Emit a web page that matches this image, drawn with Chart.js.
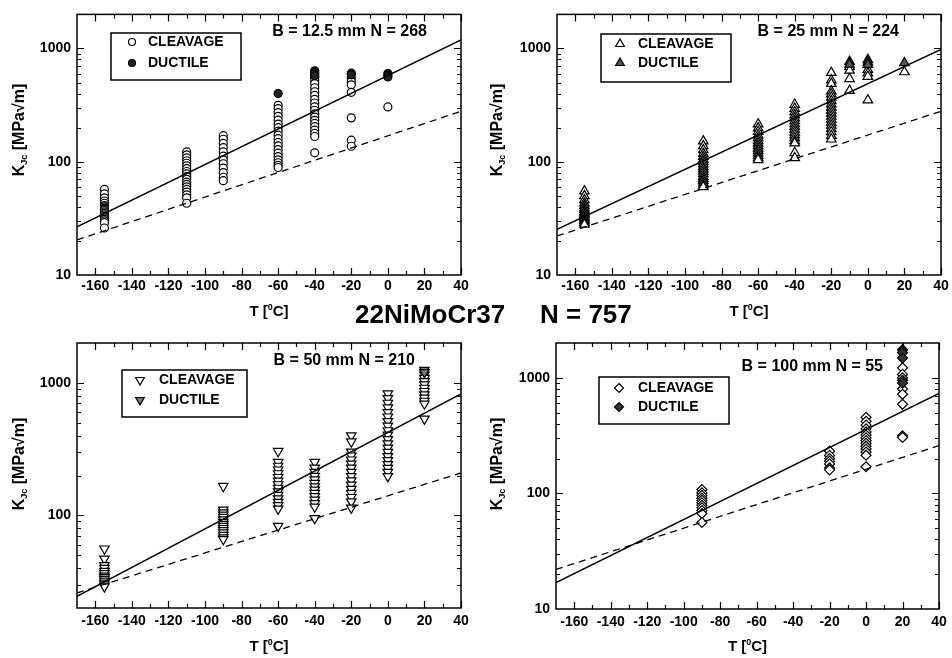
<!DOCTYPE html>
<html>
<head>
<meta charset="utf-8">
<script src="https://cdn.jsdelivr.net/npm/chart.js@4.4.0/dist/chart.umd.min.js"></script>
<style>
body { margin: 0; background: #fff; }
#wrap { position: relative; width: 952px; height: 658px; overflow: hidden; }
canvas { position: absolute; }
.title { position: absolute; top: 301px; font: bold 26px "Liberation Sans", Arial, sans-serif; line-height: 26px; white-space: nowrap; color: #000; }
</style>
</head>
<body>
<div id="wrap">
  <canvas id="c1" width="476" height="330" style="left:0;top:0"></canvas>
  <canvas id="c2" width="476" height="330" style="left:476px;top:0"></canvas>
  <canvas id="c3" width="476" height="338" style="left:0;top:320px"></canvas>
  <canvas id="c4" width="476" height="338" style="left:476px;top:320px"></canvas>
  <div class="title" style="left:355px">22NiMoCr37</div>
  <div class="title" style="left:540px">N = 757</div>
</div>
<script>
// axis ticks
const xTicks = [-160, -140, -120, -100, -80, -60, -40, -20, 0, 20, 40];
const xMinor = [-150, -130, -110, -90, -70, -50, -30, -10, 10, 30];
const yTicksFull = [10, 100, 1000];
const yTicksUpper = [100, 1000];
const lineT = [-170, 40];

// B = 12.5 mm
const temps125 = [-155, -110, -90, -60, -40, -20, 0];
const cleav125 = [
    [57, 52, 48, 45, 43, 41, 40, 39, 38, 37, 36, 35, 34, 33, 32, 31, 30, 29, 26],
    [122, 115, 108, 102, 97, 92, 87, 82, 78, 74, 70, 66, 63, 60, 57, 54, 51, 48, 43],
    [170, 158, 145, 133, 122, 112, 104, 96, 88, 80, 73, 68],
    [315, 295, 272, 252, 233, 215, 200, 186, 172, 160, 148, 138, 128, 119, 111, 104, 98, 93, 89],
    [560, 525, 490, 450, 415, 385, 355, 330, 305, 285, 265, 248, 232, 218, 204, 190, 178, 167, 120],
    [545, 510, 478, 410, 244, 155, 137],
    [305]
];
const duct125 = [[], [], [], [400], [635, 615, 595, 575], [605, 585], [600, 580, 560]];
const median125 = [26.6, 1190];
const lower125 = [20.4, 279];

// B = 25 mm
const temps25 = [-155, -90, -60, -40, -20, -10, 0, 20];
const cleav25 = [
    [55, 50, 46, 43, 41, 39, 37.5, 36, 35, 34, 33, 32, 31, 30, 29, 28],
    [152, 138, 127, 118, 111, 105, 100, 95, 90, 86, 82, 78, 74, 71, 68, 65, 62, 60],
    [215, 198, 184, 172, 162, 153, 145, 138, 131, 125, 119, 113, 108, 104],
    [320, 295, 275, 258, 243, 229, 216, 204, 193, 182, 172, 162, 153, 146, 120, 108],
    [612, 525, 490, 420, 395, 370, 345, 322, 302, 284, 267, 251, 236, 222, 209, 196, 183, 170, 158],
    [690, 640, 540, 425],
    [650, 605, 565, 350],
    [620]
];
const duct25 = [[], [], [], [], [], [765, 725], [795, 755, 720], [745]];
const median25 = [25.3, 980];
const lower25 = [22.1, 279];

// B = 50 mm
const temps50 = [-155, -90, -60, -40, -20, 0, 20];
const cleav50 = [
    [56, 47, 42, 40, 38, 36.5, 35, 34, 33, 32, 31, 30, 29],
    [166, 110, 105, 101, 97, 93, 89, 86, 83, 80, 77, 74, 71, 68, 66],
    [305, 252, 236, 221, 207, 194, 182, 171, 161, 151, 142, 134, 126, 119, 112, 83],
    [252, 228, 212, 198, 186, 175, 165, 156, 147, 139, 131, 123, 116, 95],
    [400, 360, 302, 282, 263, 245, 228, 212, 197, 183, 170, 158, 147, 137, 127, 114],
    [830, 765, 705, 650, 600, 555, 512, 473, 437, 405, 375, 348, 323, 300, 279, 260, 243, 227, 212, 197],
    [1150, 1085, 1025, 970, 915, 865, 815, 770, 730, 695, 535]
];
const duct50 = [[], [], [], [], [], [], [1250, 1200]];
const median50 = [24.5, 827];
const lower50 = [26, 209];

// B = 100 mm
const temps100 = [-90, -20, 0, 20];
const cleav100 = [
    [108, 101, 96, 91, 87, 83, 79, 75, 71, 67, 56],
    [232, 213, 200, 190, 180, 166, 160],
    [455, 420, 390, 362, 340, 320, 302, 286, 271, 256, 242, 228, 214, 170],
    [1220, 1070, 1000, 800, 720, 590, 315, 305]
];
const duct100 = [[], [], [], [1750, 1650, 1480, 950, 900]];
const median100 = [16.9, 733];
const lower100 = [22, 259];

const FONT = '"Liberation Sans", Arial, sans-serif';

const panels = [
    { id: 'c1', temps: temps125, cleav: cleav125, duct: duct125, median: median125, lower: lower125,
      yMin: 10, yTicks: yTicksFull, shape: 'circle', rot: 0, r: 4, ductFill: '#222',
      note: 'B = 12.5 mm N = 268', noteX: 427, noteY: 32,
      area: [77, 461, 8, 275], tickPad: 3,
      legend: { x: 111, y: 33, w: 130, h: 47, mx: 132, tx: 148, rows: [42, 63] },
      xTitleY: 310, yTitle: [18, 130] },
    { id: 'c2', temps: temps25, cleav: cleav25, duct: duct25, median: median25, lower: lower25,
      yMin: 10, yTicks: yTicksFull, shape: 'triangle', rot: 0, r: 5.5, ductFill: '#555',
      note: 'B = 25 mm N = 224', noteX: 423, noteY: 32,
      area: [81, 465, 7, 275], tickPad: 3,
      legend: { x: 125, y: 34, w: 130, h: 48, mx: 144, tx: 162, rows: [44, 63] },
      xTitleY: 310, yTitle: [20, 130] },
    { id: 'c3', temps: temps50, cleav: cleav50, duct: duct50, median: median50, lower: lower50,
      yMin: 20, yTicks: yTicksUpper, shape: 'triangle', rot: 180, r: 5.5, ductFill: '#777',
      note: 'B = 50 mm N = 210', noteX: 415, noteY: 41,
      area: [77, 461, 23, 288], tickPad: 5,
      legend: { x: 122, y: 50, w: 125, h: 47, mx: 140, tx: 159, rows: [60, 80] },
      xTitleY: 325, yTitle: [18, 144] },
    { id: 'c4', temps: temps100, cleav: cleav100, duct: duct100, median: median100, lower: lower100,
      yMin: 10, yTicks: yTicksFull, shape: 'rectRot', rot: 0, r: 5, ductFill: '#333',
      note: 'B = 100 mm N = 55', noteX: 407, noteY: 47,
      area: [80, 463, 23, 289], tickPad: 5,
      legend: { x: 123, y: 57, w: 130, h: 47, mx: 143, tx: 162, rows: [68, 87] },
      xTitleY: 325, yTitle: [20, 144] }
];

function toPoints(temps, vals) {
    return temps.flatMap((t, i) => vals[i].map(v => ({ x: t, y: v })));
}

function marker(ctx, shape, rot, x, y, r, fill) {
    ctx.beginPath();
    if (shape === 'circle') {
        ctx.arc(x, y, r, 0, Math.PI * 2);
    } else if (shape === 'triangle') {
        let a = rot * Math.PI / 180;
        for (let k = 0; k < 3; k++) {
            const px = x + Math.sin(a) * r, py = y - Math.cos(a) * r;
            k ? ctx.lineTo(px, py) : ctx.moveTo(px, py);
            a += 2 * Math.PI / 3;
        }
        ctx.closePath();
    } else {
        ctx.moveTo(x, y - r); ctx.lineTo(x + r, y); ctx.lineTo(x, y + r); ctx.lineTo(x - r, y);
        ctx.closePath();
    }
    ctx.fillStyle = fill;
    ctx.fill();
    ctx.lineWidth = 1.2;
    ctx.strokeStyle = '#000';
    ctx.stroke();
}

function decorate(p) {
    return {
        id: 'decorate',
        afterDraw(chart) {
            const ctx = chart.ctx, a = chart.chartArea;
            const xs = chart.scales.x, ys = chart.scales.y;
            ctx.save();
            // frame
            ctx.strokeStyle = '#000';
            ctx.lineWidth = 1.5;
            ctx.strokeRect(a.left, a.top, a.right - a.left, a.bottom - a.top);
            // inward ticks on all sides
            ctx.lineWidth = 1.2;
            ctx.beginPath();
            const xt = (v, len) => {
                const px = Math.round(xs.getPixelForValue(v)) + 0.5;
                ctx.moveTo(px, a.bottom); ctx.lineTo(px, a.bottom - len);
                ctx.moveTo(px, a.top); ctx.lineTo(px, a.top + len);
            };
            const yt = (v, len) => {
                const py = Math.round(ys.getPixelForValue(v)) + 0.5;
                ctx.moveTo(a.left, py); ctx.lineTo(a.left + len, py);
                ctx.moveTo(a.right, py); ctx.lineTo(a.right - len, py);
            };
            xTicks.forEach(v => xt(v, 7));
            xMinor.forEach(v => xt(v, 4));
            [10, 100, 1000].forEach(d => {
                if (d > p.yMin) yt(d, 7);
                for (let k = 2; k <= 9; k++) {
                    const v = d * k;
                    if (v > p.yMin && v < 2000) yt(v, 4);
                }
            });
            ctx.stroke();

            // legend box
            const L = p.legend;
            ctx.fillStyle = '#fff';
            ctx.fillRect(L.x, L.y, L.w, L.h);
            ctx.lineWidth = 1.5;
            ctx.strokeStyle = '#000';
            ctx.strokeRect(L.x, L.y, L.w, L.h);
            marker(ctx, p.shape, p.rot, L.mx, L.rows[0], p.r - 0.5, '#fff');
            marker(ctx, p.shape, p.rot, L.mx, L.rows[1], p.r - 0.5, p.ductFill);
            ctx.fillStyle = '#000';
            ctx.font = 'bold 14px ' + FONT;
            ctx.textAlign = 'left';
            ctx.textBaseline = 'middle';
            ctx.fillText('CLEAVAGE', L.tx, L.rows[0]);
            ctx.fillText('DUCTILE', L.tx, L.rows[1]);

            // specimen note
            ctx.font = 'bold 16px ' + FONT;
            ctx.textAlign = 'right';
            ctx.fillText(p.note, p.noteX, p.noteY);

            // x title: T [0C] with superscript
            ctx.textAlign = 'left';
            ctx.textBaseline = 'alphabetic';
            const big = 'bold 15px ' + FONT, small = 'bold 9px ' + FONT;
            ctx.font = big;
            const w1 = ctx.measureText('T [').width, w3 = ctx.measureText('C]').width;
            ctx.font = small;
            const w2 = ctx.measureText('0').width;
            let x0 = (a.left + a.right) / 2 - (w1 + w2 + w3) / 2;
            const base = p.xTitleY + 5.5;
            ctx.font = big; ctx.fillText('T [', x0, base);
            ctx.font = small; ctx.fillText('0', x0 + w1, base - 6);
            ctx.font = big; ctx.fillText('C]', x0 + w1 + w2, base);

            // y title: K_Jc [MPa√m], rotated
            ctx.translate(p.yTitle[0], p.yTitle[1]);
            ctx.rotate(-Math.PI / 2);
            const yb = 'bold 16px ' + FONT, ysub = 'bold 9px ' + FONT;
            ctx.font = yb;
            const k1 = ctx.measureText('K').width, k3 = ctx.measureText(' [MPa√m]').width;
            ctx.font = ysub;
            const k2 = ctx.measureText('Jc').width;
            const s0 = -(k1 + k2 + k3) / 2;
            ctx.font = yb; ctx.fillText('K', s0, 6);
            ctx.font = ysub; ctx.fillText('Jc', s0 + k1, 9);
            ctx.font = yb; ctx.fillText(' [MPa√m]', s0 + k1 + k2, 6);
            ctx.restore();
        }
    };
}

function makeChart(p) {
    const canvas = document.getElementById(p.id);
    const W = canvas.width, H = canvas.height;
    const [left, right, top, bottom] = p.area;
    const tickFont = { family: FONT, size: 14, weight: 'bold' };
    new Chart(canvas, {
        type: 'scatter',
        data: {
            datasets: [
                {
                    data: lineT.map((t, i) => ({ x: t, y: p.median[i] })),
                    showLine: true, pointRadius: 0, borderColor: '#000', borderWidth: 1.5
                },
                {
                    data: lineT.map((t, i) => ({ x: t, y: p.lower[i] })),
                    showLine: true, pointRadius: 0, borderColor: '#000', borderWidth: 1.3,
                    borderDash: [7, 5]
                },
                {
                    data: toPoints(p.temps, p.duct),
                    pointStyle: p.shape, pointRotation: p.rot, pointRadius: p.r,
                    pointBackgroundColor: p.ductFill, pointBorderColor: '#000', pointBorderWidth: 1.2
                },
                {
                    data: toPoints(p.temps, p.cleav),
                    pointStyle: p.shape, pointRotation: p.rot, pointRadius: p.r,
                    pointBackgroundColor: '#fff', pointBorderColor: '#000', pointBorderWidth: 1.2
                }
            ]
        },
        options: {
            responsive: false,
            animation: false,
            events: [],
            layout: { padding: { left: 0, top: top, right: W - right, bottom: 0 } },
            plugins: { legend: { display: false }, tooltip: { enabled: false } },
            scales: {
                x: {
                    type: 'linear', min: -170, max: 40,
                    grid: { display: false, drawTicks: false },
                    border: { display: false },
                    afterBuildTicks: s => { s.ticks = xTicks.map(v => ({ value: v })); },
                    afterFit: s => { s.height = H - bottom; },
                    ticks: { font: tickFont, color: '#000', padding: p.tickPad, maxRotation: 0, autoSkip: false,
                             callback: v => String(v) }
                },
                y: {
                    type: 'logarithmic', min: p.yMin, max: 2000,
                    grid: { display: false, drawTicks: false },
                    border: { display: false },
                    afterBuildTicks: s => { s.ticks = p.yTicks.map(v => ({ value: v })); },
                    afterFit: s => { s.width = left; },
                    ticks: { font: tickFont, color: '#000', padding: 6, autoSkip: false,
                             callback: v => String(v) }
                }
            }
        },
        plugins: [decorate(p)]
    });
}

panels.forEach(makeChart);
</script>
</body>
</html>
